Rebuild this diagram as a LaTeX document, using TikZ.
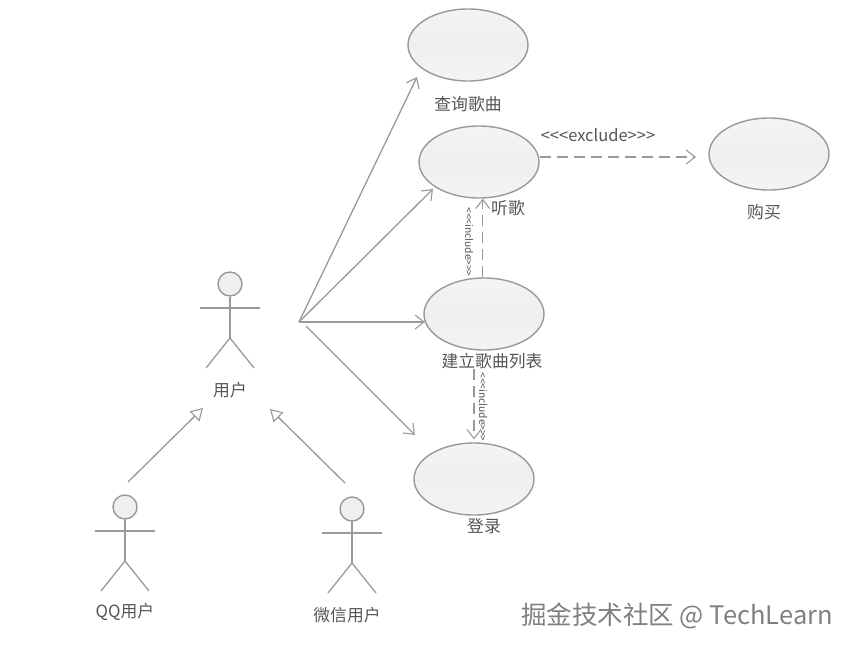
\documentclass[tikz,border=0pt]{standalone}
\usepackage{fontspec}
\setmainfont{Noto Sans CJK SC}
\usetikzlibrary{arrows.meta, positioning, shapes.geometric}

\definecolor{umlline}{HTML}{999999}
\definecolor{umltext}{HTML}{555555}
\definecolor{umlfill}{HTML}{EFEFEF}

\tikzset{
    usecase/.style={ellipse, draw=umlline, line width=1.4pt, top color=umlfill!70!white, bottom color=umlfill!70!white, middle color=umlfill, minimum width=120pt, minimum height=72pt, inner sep=0pt},
    assoc/.style={draw=umlline, line width=1.3pt, -{Straight Barb[length=9pt, width=14pt, line width=1.1pt]}},
    depend/.style={assoc, dash pattern=on 11pt off 6pt},
    general/.style={draw=umlline, line width=1.3pt, -{Triangle[open, length=12pt, width=14pt, line width=1.1pt]}},
    caption/.style={text=umltext, font=\fontsize{16.8}{20}\selectfont, inner sep=0pt},
    stereo/.style={text=umltext, font=\fontsize{10.2}{12}\selectfont, rotate=-90, inner sep=0pt},
    actorman/.pic={
        \node[circle, draw=umlline, fill=umlfill, line width=1.4pt, minimum size=24pt, inner sep=0pt] (-head) at (0,0) {};
        \draw[draw=umlline, line width=1.3pt] (-head.south) -- (0,54) coordinate (-hip);
        \draw[draw=umlline, line width=1.4pt] (-30,24) -- (30,24);
        \draw[draw=umlline, line width=1.3pt] (-24,84) -- (-hip) -- (24,84);
    },
}

\begin{document}
\begin{tikzpicture}[x=1pt, y=-1pt]
\useasboundingbox (0,0) rectangle (854,649);

% 用例
\node[usecase] (search) at (468,45) {};
\node[usecase] (listen) at (479,162) {};
\node[usecase] (list) at (484,314) {};
\node[usecase] (login) at (474,479) {};
\node[usecase] (buy) at (769,154) {};

% 用例名称
\node[caption] (searchlabel) at (468,104) {查询歌曲};
\node[caption] (listenlabel) at (508,208) {听歌};
\node[caption] (listlabel) at (492,361) {建立歌曲列表};
\node[caption] (loginlabel) at (484,526) {登录};
\node[caption] (buylabel) at (764,212) {购买};

% 参与者
\pic (user) at (230,284) {actorman};
\pic (qq) at (125,507) {actorman};
\pic (wechat) at (352,509) {actorman};
\node[caption] (userlabel) at (230,390) {用户};
\node[caption] (qqlabel) at (125,612) {QQ用户};
\node[caption] (wechatlabel) at (347,615) {微信用户};

% 关联
\coordinate (hub) at (299,322);
\coordinate (hublow) at (306,326);
\coordinate (searchtip) at (417,77);
\coordinate (listentip) at (433,189);
\coordinate (listtip) at (425,322);
\coordinate (logintip) at (415,435);
\draw[assoc] (hub) -- (searchtip);
\draw[assoc] (hub) -- (listentip);
\draw[assoc] (hub) -- (listtip);
\draw[assoc] (hublow) -- (logintip);

% 泛化
\coordinate (qqfrom) at (128,482);
\coordinate (qqto) at (203,408);
\coordinate (wechatfrom) at (345,483);
\coordinate (wechatto) at (270,409);
\draw[general] (qqfrom) -- (qqto);
\draw[general] (wechatfrom) -- (wechatto);

% 依赖
\coordinate (buytip) at (696,157);
\draw[depend] (listen.east |- buytip) -- (buytip);
\draw[depend] (list.92) -- (list.92 |- listen.south);
\draw[depend, shorten >=3pt] (listlabel.south -| login.north) -- (login.north);

% 构造型
\node[text=umltext, font=\fontsize{16.5}{18}\selectfont, inner sep=0pt] (excludelabel) at (598,135) {<{}<{}<{}exclude>{}>{}>};
\node[stereo] (includeup) at (469,242) {<{}<{}<{}include>{}>{}>};
\node[stereo] (includedown) at (483,407) {<{}<{}<{}include>{}>{}>};

% 水印
\node[text=black!50, font=\fontsize{25.5}{30}\selectfont, inner sep=0pt] (mark) at (677,616) {掘金技术社区 @ TechLearn};

\end{tikzpicture}
\end{document}
